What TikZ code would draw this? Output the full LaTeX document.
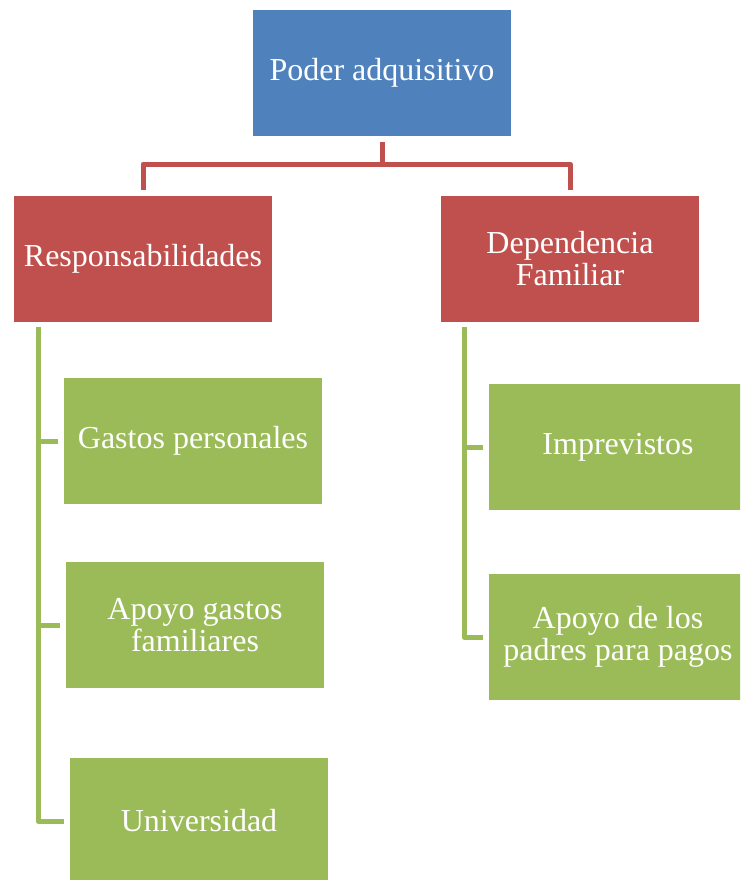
\documentclass[tikz,border=0pt]{standalone}
\usepackage{fontspec}
\setmainfont{Liberation Serif}
\definecolor{oblue}{HTML}{4F81BD}
\definecolor{ored}{HTML}{C0504D}
\definecolor{ogreen}{HTML}{9BBB59}
\begin{document}
\begin{tikzpicture}[x=1pt,y=-1pt,
  box/.style={minimum width=258pt,minimum height=126pt,inner sep=0pt,text=white,align=center,
    font=\fontsize{32}{32}\selectfont},
  bluebox/.style={box,fill=oblue},
  redbox/.style={box,fill=ored},
  greenbox/.style={box,fill=ogreen},
  redline/.style={draw=ored,line width=5pt,line join=round},
  greenline/.style={draw=ogreen,line width=5pt,line join=round}]
\useasboundingbox (0,0) rectangle (740,880);
\begin{scope}
\clip (0,0) rectangle (740,880);
\node[bluebox] (top) at (382,73) {Poder adquisitivo};
\node[redbox] (resp) at (143,259) {Responsabilidades};
\node[redbox] (dep) at (570,259) {Dependencia\\Familiar};
\node[greenbox] (gp) at (193,441) {Gastos personales};
\node[greenbox] (agf) at (195,625) {Apoyo gastos\\familiares};
\node[greenbox] (uni) at (199,821) {Universidad};
\node[greenbox] (imp) at (618,447) {Imprevistos};
\node[greenbox] (apo) at (618,637) {Apoyo de los\\padres para pagos};
\end{scope}
% red connectors
\coordinate (hy) at (0,164);
\draw[redline] ([yshift=-6pt]top.south) -- (top.south |- hy);
\draw[redline] ([yshift=6pt]resp.north) -- (resp.north |- hy) -- (dep.north |- hy) -- ([yshift=6pt]dep.north);
% green connectors left
\coordinate (lx) at (38,0);
\coordinate (lt) at (38,327);
\draw[greenline] (lt) -- (lx |- uni.west) -- ([xshift=-6pt]uni.west);
\draw[greenline] (lx |- gp.west) -- ([xshift=-6pt]gp.west);
\draw[greenline] (lx |- agf.west) -- ([xshift=-6pt]agf.west);
% green connectors right
\coordinate (rx) at (464,0);
\coordinate (rt) at (464,327);
\draw[greenline] (rt) -- (rx |- apo.west) -- ([xshift=-6pt]apo.west);
\draw[greenline] (rx |- imp.west) -- ([xshift=-6pt]imp.west);
\end{tikzpicture}
\end{document}
